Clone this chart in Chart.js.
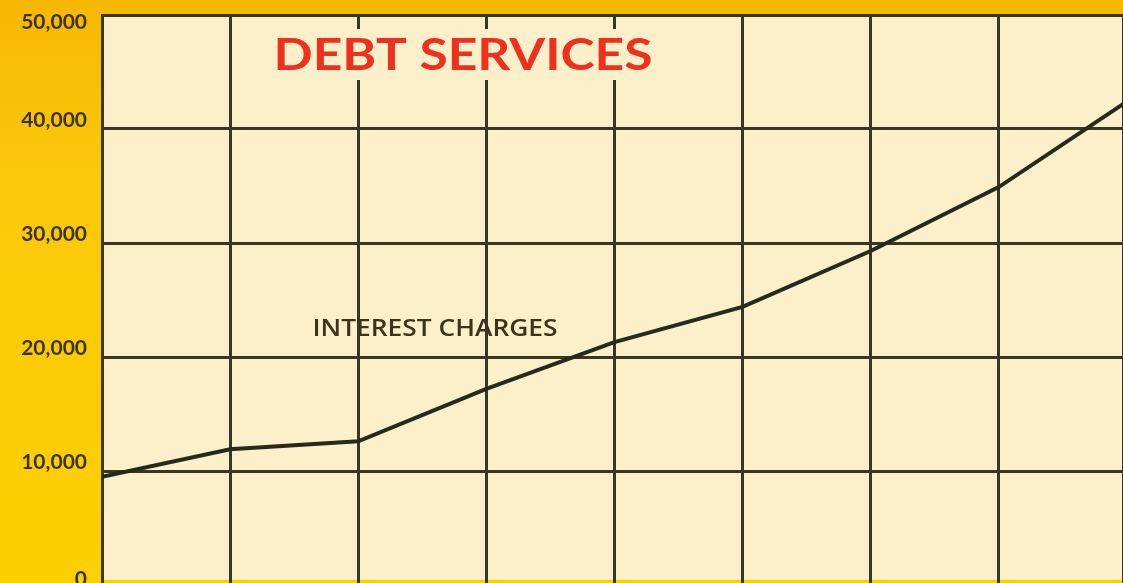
<!DOCTYPE html>
<html>
<head>
<meta charset="utf-8">
<script src="https://cdn.jsdelivr.net/npm/chart.js@4.4.0/dist/chart.umd.min.js"></script>
<style>
  html, body { margin: 0; padding: 0; background: #f8c506; overflow: hidden; }
  #wrap { width: 1123px; height: 583px; overflow: hidden; }
  canvas { display: block; }
</style>
</head>
<body>
<div id="wrap"><canvas id="chart" width="1123" height="588"></canvas></div>
<script>
// values (no x labels are printed on it)
const periods = [0, 1, 2, 3, 4, 5, 6, 7, 8];
const interestCharges = [9500, 11900, 12600, 17200, 21300, 24400, 29300, 34900, 42400];
const yTicks = [0, 10000, 20000, 30000, 40000, 50000];
const titleText = 'DEBT SERVICES';
const seriesLabel = 'INTEREST CHARGES';

const gridColor = '#3a3620';
const inkColor = '#3b3419';

// paper colours: yellow cover behind, cream sheet in the plot area
const paperPlugin = {
  id: 'paper',
  beforeDraw(chart) {
    const { ctx, chartArea, width, height } = chart;
    ctx.save();
    const g = ctx.createLinearGradient(0, 0, 0, height);
    g.addColorStop(0, '#f7b800');
    g.addColorStop(0.3, '#fbc80a');
    g.addColorStop(1, '#fcd000');
    ctx.fillStyle = g;
    ctx.fillRect(0, 0, width, height);
    ctx.fillStyle = '#fbf0c9';
    // the sheet stops a few pixels above the zero line
    ctx.fillRect(chartArea.left, chartArea.top, chartArea.right - chartArea.left, chartArea.bottom - chartArea.top - 5);
    ctx.restore();
  }
};

// y tick labels sit a little above their grid line (top one just below)
const labelsPlugin = {
  id: 'labels',
  afterDraw(chart) {
    const { ctx } = chart;
    const y = chart.scales.y;
    ctx.save();
    ctx.fillStyle = inkColor;
    ctx.font = 'bold 21px Lato';
    ctx.textAlign = 'right';
    ctx.textBaseline = 'middle';
    yTicks.forEach(v => {
      let py = y.getPixelForValue(v) - 9;
      if (py < 22) py = 22;
      if (v === 0) py = 579;
      ctx.fillText(v.toLocaleString('en-US'), 87, py);
    });

    // title, knocked out of the grid
    ctx.font = 'bold 44px Lato';
    const tw = ctx.measureText(titleText).width;
    ctx.fillStyle = '#fbf0c9';
    ctx.fillRect(268, 29, 390, 51);
    ctx.save();
    ctx.translate(463, 56);
    ctx.scale(379 / tw, 1);
    ctx.fillStyle = '#f0301e';
    ctx.textAlign = 'center';
    ctx.fillText(titleText, 0, 0);
    ctx.restore();

    // series label
    ctx.font = '600 23px "Open Sans"';
    const lw = ctx.measureText(seriesLabel).width;
    ctx.save();
    ctx.translate(435, 329);
    ctx.scale(245 / lw, 1);
    ctx.fillStyle = inkColor;
    ctx.textAlign = 'center';
    ctx.fillText(seriesLabel, 0, 0);
    ctx.restore();
    ctx.restore();
  }
};

const ctx = document.getElementById('chart').getContext('2d');
new Chart(ctx, {
  type: 'line',
  data: {
    datasets: [{
      label: seriesLabel,
      data: periods.map((p, i) => ({ x: p, y: interestCharges[i] })),
      borderColor: '#262a1e',
      borderWidth: 4,
      pointRadius: 0,
      tension: 0,
      fill: false
    }]
  },
  options: {
    responsive: false,
    animation: false,
    layout: { padding: { top: 15, bottom: 3, right: 0, left: 0 } },
    plugins: {
      legend: { display: false },
      tooltip: { enabled: false },
      title: { display: false }
    },
    scales: {
      x: {
        type: 'linear',
        min: 0,
        max: 7.97,
        ticks: { display: false, stepSize: 1 },
        grid: { color: gridColor, lineWidth: 3, drawTicks: false },
        border: { display: false },
        afterFit(scale) { scale.height = 0; }
      },
      y: {
        min: 0,
        max: 50000,
        ticks: { display: false, stepSize: 10000 },
        grid: { color: gridColor, lineWidth: 3, drawTicks: false },
        border: { display: true, color: gridColor, width: 3 },
        afterFit(scale) { scale.width = 102; }
      }
    }
  },
  plugins: [paperPlugin, labelsPlugin]
});
</script>
</body>
</html>
